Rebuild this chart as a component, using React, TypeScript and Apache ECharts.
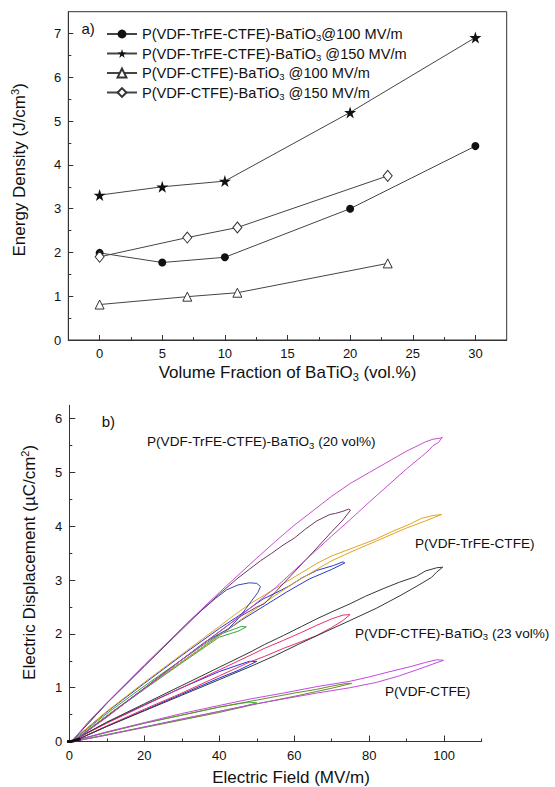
import React, { useEffect, useRef } from 'react';
import * as echarts from 'echarts';

const FONT = '"Liberation Sans", Arial, Helvetica, sans-serif';
const INK = '#111';
const AXIS = '#333';

// ---------- (a) energy density vs. BaTiO3 volume fraction ----------
const volTerBT = [0, 5, 10, 20, 30];
const udTerBT100 = [1.99, 1.77, 1.89, 3.0, 4.43];
const udTerBT150 = [3.31, 3.5, 3.63, 5.2, 6.91];
const volCoBT = [0, 7, 11, 23];
const udCoBT100 = [0.81, 0.99, 1.08, 1.75];
const udCoBT150 = [1.9, 2.34, 2.57, 3.75];

const namesA = [
  'P(VDF-TrFE-CTFE)-BaTiO3@100 MV/m',
  'P(VDF-TrFE-CTFE)-BaTiO3 @150 MV/m',
  'P(VDF-CTFE)-BaTiO3 @100 MV/m',
  'P(VDF-CTFE)-BaTiO3 @150 MV/m',
];

const volTicks = [0, 5, 10, 15, 20, 25, 30];
const volMinor = [2.5, 7.5, 12.5, 17.5, 22.5, 27.5];
const udTicks = [0, 1, 2, 3, 4, 5, 6, 7];
const udMinor = [0.5, 1.5, 2.5, 3.5, 4.5, 5.5, 6.5];

// ---------- (b) D–E loops: [field MV/m, displacement µC/cm²] ----------
// P(VDF-TrFE-CTFE)-BaTiO3 (20 vol%)
const terBT100 = [
  [1, 0], [5, 0.2], [10, 0.45], [15, 0.72], [20, 0.98], [25, 1.25], [30, 1.52], [35, 1.78],
  [40, 2.04], [45, 2.3], [50, 2.58], [55, 2.86], [60, 3.18], [65, 3.5], [70, 3.82], [75, 4.13],
  [80, 4.45], [85, 4.76], [90, 5.07], [94, 5.3], [96, 5.42], [97, 5.5], [98.5, 5.56], [99.5, 5.66],
  [99, 5.64], [97, 5.62], [95, 5.57], [90, 5.4], [85, 5.2], [80, 5.0], [75, 4.8], [70, 4.56],
  [65, 4.29], [60, 4.02], [55, 3.72], [50, 3.41], [45, 3.09], [40, 2.77], [35, 2.44], [30, 2.1],
  [25, 1.76], [20, 1.42], [15, 1.07], [10, 0.72], [5, 0.36], [1, 0.03],
];
const terBT75 = [
  [1, 0], [10, 0.46], [20, 0.99], [30, 1.52], [40, 2.04], [45, 2.3], [50, 2.5], [52, 2.56],
  [55, 2.78], [60, 3.15], [65, 3.52], [70, 3.9], [73, 4.12], [75, 4.3],
  [74.5, 4.32], [73, 4.28], [71, 4.24], [69.5, 4.22], [66, 4.1], [63, 3.95], [60, 3.78],
  [57, 3.65], [54, 3.5], [51, 3.36], [48, 3.2], [45, 3.04], [40, 2.74], [35, 2.42], [30, 2.08],
  [20, 1.4], [10, 0.71], [1, 0.03],
];
const terBT50 = [
  [1, 0], [10, 0.46], [20, 0.99], [30, 1.52], [36, 1.84], [40, 2.0], [42.5, 2.1], [45, 2.28],
  [47, 2.46], [49, 2.65], [50.3, 2.77], [51, 2.88],
  [50, 2.94], [48, 2.95], [45, 2.91], [42, 2.82], [39, 2.66], [36, 2.48], [33, 2.3], [30, 2.1],
  [25, 1.75], [20, 1.4], [10, 0.71], [1, 0.03],
];
// P(VDF-TrFE-CTFE)
const ter100 = [
  [1, 0], [10, 0.48], [20, 0.98], [30, 1.48], [40, 1.97], [48, 2.38], [55, 2.72], [60, 2.95],
  [66, 3.2], [70, 3.36], [75, 3.52], [80, 3.67], [85, 3.82], [90, 3.97], [95, 4.1], [99.3, 4.22],
  [97, 4.2], [94, 4.15], [90.8, 4.04], [86, 3.9], [82, 3.77], [78, 3.66], [74.9, 3.58], [70, 3.45],
  [66, 3.31], [62, 3.14], [57, 2.93], [52, 2.72], [48.2, 2.56], [44, 2.35], [40, 2.14], [30, 1.62],
  [20, 1.1], [10, 0.56], [1, 0.03],
];
const ter75 = [
  [1, 0], [10, 0.48], [20, 0.98], [30, 1.48], [40, 1.97], [46, 2.26], [52, 2.52], [58, 2.78],
  [64, 3.02], [70, 3.2], [73.5, 3.32],
  [73, 3.34], [70.4, 3.27], [66, 3.18], [62, 3.04], [58.9, 2.9], [55, 2.76], [51.7, 2.65],
  [47, 2.42], [40, 2.1], [30, 1.6], [20, 1.08], [10, 0.55], [1, 0.03],
];
const ter47 = [
  [1, 0], [10, 0.47], [20, 0.97], [30, 1.46], [40, 1.94], [45, 2.05], [47.2, 2.13],
  [46, 2.14], [44, 2.09], [40, 1.99], [35, 1.76], [30, 1.52], [20, 1.03], [10, 0.52], [1, 0.02],
];
// P(VDF-CTFE)-BaTiO3 (23 vol%)
const coBT100 = [
  [1, 0], [10, 0.28], [20, 0.57], [30, 0.86], [40, 1.15], [48.2, 1.39], [55, 1.6], [61.5, 1.82],
  [68, 2.03], [74.9, 2.25], [82, 2.48], [88.2, 2.71], [93, 2.9], [96.6, 3.05], [98, 3.15], [99.6, 3.24],
  [98, 3.23], [95, 3.17], [92.6, 3.07], [88, 2.96], [83.7, 2.84], [79, 2.7], [74.9, 2.56], [70, 2.41],
  [66, 2.28], [62, 2.14], [57.1, 1.97], [52, 1.8], [48.2, 1.66], [40, 1.38], [30, 1.04], [20, 0.7],
  [10, 0.36], [1, 0.02],
];
const coBT75 = [
  [1, 0], [10, 0.29], [20, 0.6], [30, 0.9], [40, 1.22], [48.2, 1.48], [52, 1.58], [57.1, 1.73],
  [62, 1.86], [66, 1.97], [70, 2.12], [73, 2.25], [74.9, 2.36],
  [73, 2.35], [70, 2.28], [66, 2.16], [62, 2.03], [57.1, 1.88], [52, 1.73], [48.2, 1.6], [40, 1.33],
  [30, 1.0], [20, 0.67], [10, 0.34], [1, 0.02],
];
const coBT50 = [
  [1, 0], [10, 0.28], [20, 0.58], [30, 0.88], [40, 1.18], [45, 1.32], [50, 1.49],
  [48, 1.49], [45, 1.42], [40, 1.3], [30, 1.0], [20, 0.68], [10, 0.35], [1, 0.02],
];
// P(VDF-CTFE)
const co100 = [
  [1, 0], [10, 0.12], [20, 0.27], [30, 0.42], [40, 0.56], [48.2, 0.68], [57.1, 0.79], [66, 0.9],
  [74.9, 1.0], [82, 1.1], [88, 1.22], [93, 1.34], [97, 1.44], [99.8, 1.51],
  [98, 1.52], [95, 1.47], [90.9, 1.39], [85, 1.29], [80, 1.2], [74.9, 1.12], [66, 1.02],
  [57.1, 0.9], [48.2, 0.79], [40, 0.67], [30, 0.52], [20, 0.35], [10, 0.18], [1, 0.01],
];
const co75 = [
  [1, 0], [10, 0.12], [20, 0.26], [30, 0.4], [40, 0.54], [50, 0.7], [60, 0.84], [66, 0.93],
  [70, 0.99], [75.3, 1.08],
  [74, 1.08], [70, 1.03], [66, 0.97], [60, 0.9], [50, 0.77], [40, 0.64], [30, 0.49], [20, 0.34],
  [10, 0.17], [1, 0.01],
];
const co50 = [
  [1, 0], [10, 0.13], [20, 0.27], [30, 0.41], [40, 0.56], [47, 0.66], [50, 0.72],
  [48, 0.73], [45, 0.7], [40, 0.64], [30, 0.49], [20, 0.34], [10, 0.17], [1, 0.01],
];
const originTrace = [[-2.2, 0], [0.5, 0], [3, 0.05]];

const fieldTicks = [0, 20, 40, 60, 80, 100];
const fieldMinor = [10, 30, 50, 70, 90, 110];
const dispTicks = [0, 1, 2, 3, 4, 5, 6];
const dispMinor = [0.5, 1.5, 2.5, 3.5, 4.5, 5.5];

const loops: [number[][], string][] = [
  [co50, '#3fbf3f'],
  [co75, '#6a8a2c'],
  [co100, '#c24ae0'],
  [coBT50, '#1f30e0'],
  [coBT75, '#e8306e'],
  [coBT100, '#2f3b33'],
  [ter47, '#34a834'],
  [ter75, '#2a3acc'],
  [ter100, '#e0a524'],
  [terBT50, '#3a4aa8'],
  [terBT75, '#6a3a64'],
  [terBT100, '#c64fce'],
];

const zip = (xs: number[], ys: number[]) => xs.map((x, i) => [x, ys[i]]);

const richSub = {
  n: { fontSize: 14.6, lineHeight: 17, fontFamily: FONT, color: INK },
  s: { fontSize: 9.5, lineHeight: 8, verticalAlign: 'bottom', fontFamily: FONT, color: INK },
};
const withSub = (t: string) => {
  const i = t.indexOf('BaTiO3');
  if (i < 0) return `{n|${t}}`;
  return `{n|${t.slice(0, i + 5)}}{s|3}{n|${t.slice(i + 6)}}`;
};

const STAR =
  'path://M50,2 L61.23,36.55 L97.55,36.55 L68.17,57.9 L79.39,92.45 L50,71.1 L20.61,92.45 L31.83,57.9 L2.45,36.55 L38.77,36.55 Z';

const tickAxis = (
  kind: 'x' | 'y',
  grid: number,
  min: number,
  max: number,
  ticks: number[],
  len: number,
  labels: boolean,
  extra: any = {}
) => ({
  type: 'value',
  gridIndex: grid,
  min,
  max,
  position: kind === 'x' ? 'bottom' : 'left',
  axisLine: { show: labels, onZero: false, lineStyle: { color: AXIS, width: 1 } },
  axisTick: { show: true, inside: true, length: len, customValues: ticks, lineStyle: { color: AXIS, width: 1 } },
  axisLabel: labels
    ? { show: true, customValues: ticks, fontSize: 13, color: INK, fontFamily: FONT, margin: 7 }
    : { show: false },
  splitLine: { show: false },
  ...extra,
});

const nameA_x = '{n|Volume Fraction of BaTiO}{s|3}{n| (vol.%)}';
const nameA_y = '{n|Energy Density (J/cm}{p|3}{n|)}';
const nameB_x = '{n|Electric Field (MV/m)}';
const nameB_y = '{n|Electric Displacement (\u00b5C/cm}{p|2}{n|)}';
const richName = {
  n: { fontSize: 17, lineHeight: 20, fontFamily: FONT, color: INK },
  s: { fontSize: 11, lineHeight: 9, verticalAlign: 'bottom', fontFamily: FONT, color: INK },
  p: { fontSize: 11, lineHeight: 9, verticalAlign: 'top', fontFamily: FONT, color: INK },
};
const richNote = {
  n: { fontSize: 13.6, lineHeight: 17, fontFamily: FONT, fill: INK, color: INK },
  s: { fontSize: 9.5, lineHeight: 8, verticalAlign: 'bottom', fontFamily: FONT, fill: INK, color: INK },
};

export default function App() {
  const ref = useRef<HTMLDivElement>(null);

  useEffect(() => {
    document.body.style.margin = '0';
    if (!ref.current) return;
    const chart = echarts.init(ref.current, undefined, { renderer: 'svg' });

    const lineA = { color: '#444', width: 1 };
    const seriesA = [
      {
        name: namesA[0], type: 'line', xAxisIndex: 0, yAxisIndex: 0,
        data: zip(volTerBT, udTerBT100), symbol: 'circle', symbolSize: 8,
        lineStyle: lineA, itemStyle: { color: '#111' },
      },
      {
        name: namesA[1], type: 'line', xAxisIndex: 0, yAxisIndex: 0,
        data: zip(volTerBT, udTerBT150), symbol: STAR, symbolSize: 12,
        lineStyle: lineA, itemStyle: { color: '#111' },
      },
      {
        name: namesA[2], type: 'line', xAxisIndex: 0, yAxisIndex: 0,
        data: zip(volCoBT, udCoBT100), symbol: 'triangle', symbolSize: 9,
        lineStyle: lineA, itemStyle: { color: '#fff', borderColor: '#333', borderWidth: 1 },
      },
      {
        name: namesA[3], type: 'line', xAxisIndex: 0, yAxisIndex: 0,
        data: zip(volCoBT, udCoBT150), symbol: 'diamond', symbolSize: [9, 11],
        lineStyle: lineA, itemStyle: { color: '#fff', borderColor: '#333', borderWidth: 1 },
      },
    ];

    const seriesB = loops.map(([d, c], i) => ({
      name: 'loop' + i, type: 'line', xAxisIndex: 2, yAxisIndex: 2,
      data: d, symbol: 'none', smooth: false,
      lineStyle: { color: c, width: 1 },
    }));
    seriesB.push({
      name: 'origin', type: 'line', xAxisIndex: 2, yAxisIndex: 2, data: originTrace,
      symbol: 'none', smooth: false, clip: false, lineStyle: { color: '#111', width: 3 },
    } as any);

    chart.setOption({
      animation: false,
      textStyle: { fontFamily: FONT },
      grid: [
        { left: 68.3, top: 11.7, width: 438.4, height: 328.3, show: true, borderColor: AXIS, borderWidth: 1, backgroundColor: 'transparent' },
        { left: 69.3, top: 405.3, width: 412.4, height: 338 },
      ],
      xAxis: [
        tickAxis('x', 0, -2.5, 32.5, volTicks, 5, true, {
          name: nameA_x, nameLocation: 'middle', nameGap: 22,
          nameTextStyle: { rich: richName },
        }),
        tickAxis('x', 0, -2.5, 32.5, volMinor, 3, false),
        tickAxis('x', 1, 0, 110, fieldTicks, 6, true, {
          name: nameB_x, nameLocation: 'middle', nameGap: 26,
          nameTextStyle: { rich: richName, padding: [0, 0, 0, 31] },
        }),
        tickAxis('x', 1, 0, 110, fieldMinor, 3, false),
      ],
      yAxis: [
        tickAxis('y', 0, 0, 7.5, udTicks, 5, true, {
          name: nameA_y, nameLocation: 'middle', nameGap: 39,
          nameTextStyle: { rich: richName, padding: [0, 0, 0, 12] },
        }),
        tickAxis('y', 0, 0, 7.5, udMinor, 3, false),
        tickAxis('y', 1, 0, 6.25, dispTicks, 6, true, {
          name: nameB_y, nameLocation: 'middle', nameGap: 30,
          nameTextStyle: { rich: richName, padding: [0, 0, 0, 22] },
        }),
        tickAxis('y', 1, 0, 6.25, dispMinor, 3, false),
      ],
      legend: {
        data: namesA,
        orient: 'vertical',
        left: 101,
        top: 21.5,
        itemWidth: 30,
        itemHeight: 11,
        itemGap: 3.5,
        selectedMode: false,
        formatter: (name: string) => withSub(name),
        textStyle: { rich: richSub, color: INK, fontFamily: FONT },
      },
      graphic: [
        { type: 'text', x: 81.5, y: 28.3, style: { text: 'a)', fontSize: 15, fontFamily: FONT, fill: INK, verticalAlign: 'middle' } },
        { type: 'text', x: 101.7, y: 421, style: { text: 'b)', fontSize: 15, fontFamily: FONT, fill: INK, verticalAlign: 'middle' } },
        { type: 'text', x: 147, y: 441.7, style: { text: withSub('P(VDF-TrFE-CTFE)-BaTiO3 (20 vol%)'), rich: richNote, verticalAlign: 'middle' } },
        { type: 'text', x: 415, y: 543, style: { text: withSub('P(VDF-TrFE-CTFE)'), rich: richNote, verticalAlign: 'middle' } },
        { type: 'text', x: 355, y: 633, style: { text: withSub('P(VDF-CTFE)-BaTiO3 (23 vol%)'), rich: richNote, verticalAlign: 'middle' } },
        { type: 'text', x: 385, y: 691.7, style: { text: withSub('P(VDF-CTFE)'), rich: richNote, verticalAlign: 'middle' } },
      ],
      series: [...seriesA, ...seriesB],
    });

    return () => chart.dispose();
  }, []);

  return <div ref={ref} style={{ width: 555, height: 787 }} />;
}
